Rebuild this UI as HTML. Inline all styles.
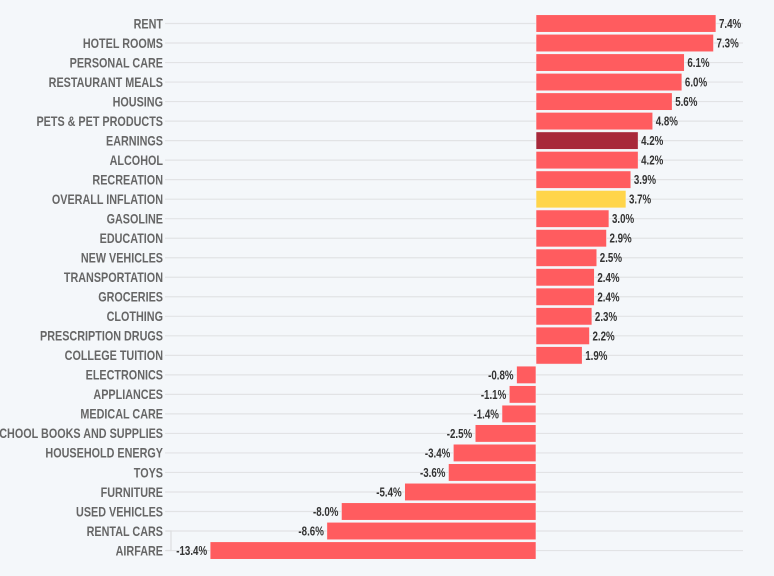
<!DOCTYPE html>
<html><head><meta charset="utf-8"><style>
html,body{margin:0;padding:0;background:#f4f7fa;}
svg{display:block;}
text{font-family:"Liberation Sans",sans-serif;font-weight:bold;}
.l{fill:#666;font-size:13.5px;text-anchor:end;}
.v{fill:#333;font-size:12.5px;}
</style></head><body>
<svg id="c" width="774" height="576" xmlns="http://www.w3.org/2000/svg"></svg>
<script>
var d=[["RENT",7.4],["HOTEL ROOMS",7.3],["PERSONAL CARE",6.1],["RESTAURANT MEALS",6.0],["HOUSING",5.6],["PETS & PET PRODUCTS",4.8],["EARNINGS",4.2],["ALCOHOL",4.2],["RECREATION",3.9],["OVERALL INFLATION",3.7],["GASOLINE",3.0],["EDUCATION",2.9],["NEW VEHICLES",2.5],["TRANSPORTATION",2.4],["GROCERIES",2.4],["CLOTHING",2.3],["PRESCRIPTION DRUGS",2.2],["COLLEGE TUITION",1.9],["ELECTRONICS",-0.8],["APPLIANCES",-1.1],["MEDICAL CARE",-1.4],["SCHOOL BOOKS AND SUPPLIES",-2.5],["HOUSEHOLD ENERGY",-3.4],["TOYS",-3.6],["FURNITURE",-5.4],["USED VEHICLES",-8.0],["RENTAL CARS",-8.6],["AIRFARE",-13.4]];
var s="",z=536,k=24.32;
d.forEach(function(r,i){
 var y=23.5+19.52*i,w=Math.abs(r[1])*k;
 var c=r[0]=="EARNINGS"?"#a8283a":(r[0]=="OVERALL INFLATION"?"#ffd54a":"#ff5c5f");
 s+='<line x1="165" x2="743" y1="'+y+'" y2="'+y+'" stroke="#e2e3e5" stroke-width="1.2"/>';
 var x=r[1]>=0?z:z-w;
 s+='<rect x="'+x+'" y="'+(y-8.75)+'" width="'+w+'" height="17.5" fill="'+c+'" stroke="#f4f7fa" stroke-width="0.6"/>';
 s+='<text class="l" transform="translate(163,'+(y+4.8)+') scale(0.8,1)">'+r[0].replace("&","&amp;")+'</text>';
 var t=r[1].toFixed(1)+"%";
 if(r[1]>=0)s+='<text class="v" transform="translate('+(z+w+3)+','+(y+4.5)+') scale(0.78,1)">'+t+'</text>';
 else s+='<text class="v" text-anchor="end" transform="translate('+(x-3)+','+(y+4.5)+') scale(0.78,1)">'+t+'</text>';
});
s+='<path d="M166 531 H171 V550.5 H166" fill="none" stroke="#dedfe1" stroke-width="1.3"/>';
document.getElementById("c").innerHTML=s;
</script>
</body></html>
